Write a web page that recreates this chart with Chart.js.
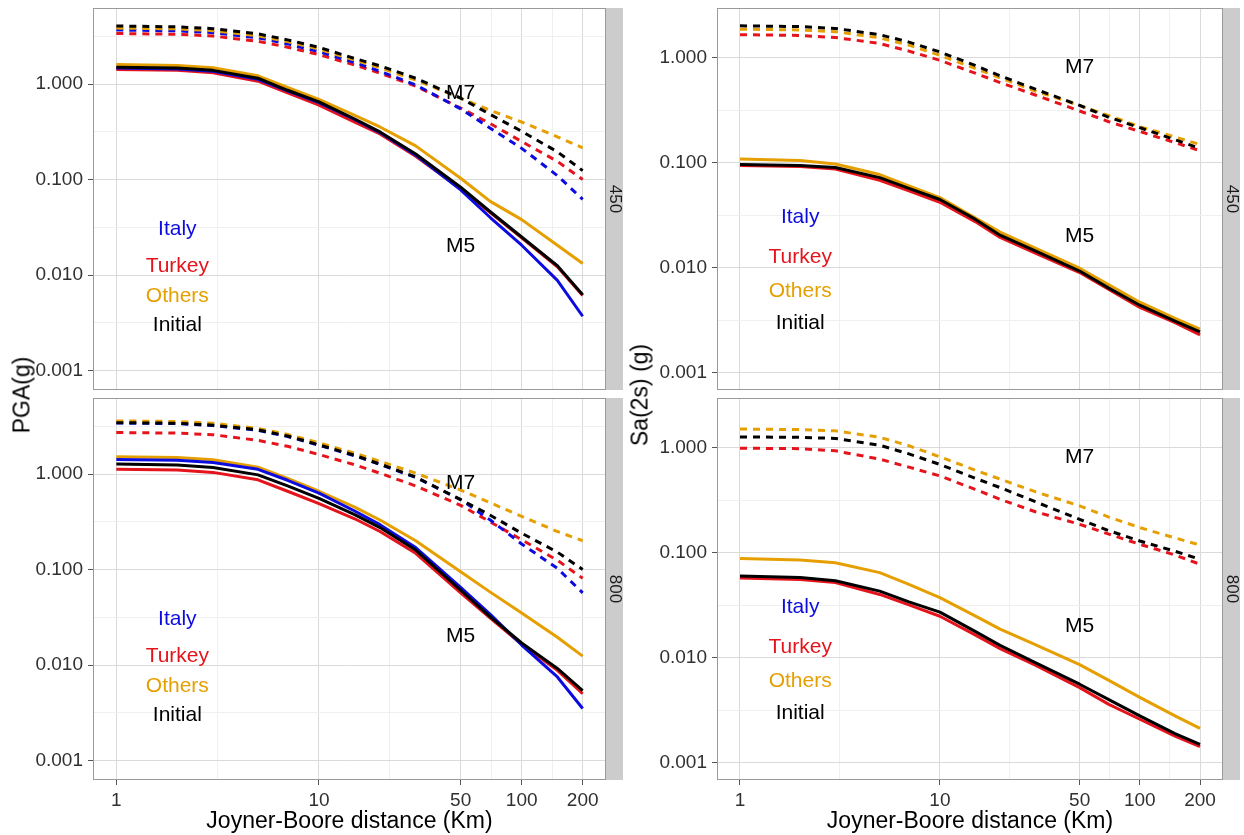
<!DOCTYPE html>
<html><head><meta charset="utf-8">
<script src="https://cdn.jsdelivr.net/npm/chart.js@4.4.0/dist/chart.umd.min.js"></script>
<style>
html,body{margin:0;padding:0;background:#fff;}
body{width:1244px;height:835px;position:relative;overflow:hidden;font-family:"Liberation Sans",Arial,sans-serif;}
canvas{position:absolute;}
.ytitle{position:absolute;font-size:23px;color:#000;transform:translate(-50%,-50%) rotate(-90deg);white-space:nowrap;line-height:1;}
</style></head><body>
<canvas id="c1" width="625" height="391" style="left:0;top:0;width:625px;height:391px"></canvas>
<canvas id="c2" width="625" height="444" style="left:0;top:391px;width:625px;height:444px"></canvas>
<canvas id="c3" width="619" height="391" style="left:625px;top:0;width:619px;height:391px"></canvas>
<canvas id="c4" width="619" height="444" style="left:625px;top:391px;width:619px;height:444px"></canvas>
<div class="ytitle" style="left:22px;top:395px">PGA(g)</div>
<div class="ytitle" style="left:640px;top:395px">Sa(2s) (g)</div>
<script>
// ---------------- data ----------------
const distances = [1, 2, 3, 5, 7, 10, 15, 20, 30, 50, 70, 100, 150, 200];
const xTickValues = [1, 10, 50, 100, 200];
const xTickLabels = ['1', '10', '50', '100', '200'];
const yTickValues = [0.001, 0.01, 0.1, 1];
const yTickLabels = ['0.001', '0.010', '0.100', '1.000'];
const stripLabels = ['450', '800'];
const xTitle = 'Joyner-Boore distance (Km)';

// PGA, Vs30 = 450
const pga450M7Initial = [4.05, 3.97, 3.80, 3.35, 2.90, 2.42, 1.85, 1.55, 1.15, 0.71, 0.48, 0.32, 0.195, 0.124];
const pga450M7Others  = [3.85, 3.78, 3.62, 3.20, 2.78, 2.32, 1.78, 1.48, 1.10, 0.71, 0.53, 0.40, 0.28, 0.215];
const pga450M7Italy   = [3.68, 3.60, 3.45, 3.05, 2.63, 2.18, 1.68, 1.36, 0.98, 0.55, 0.345, 0.212, 0.11, 0.062];
const pga450M7Turkey  = [3.38, 3.32, 3.18, 2.80, 2.43, 2.03, 1.58, 1.30, 0.95, 0.56, 0.385, 0.25, 0.155, 0.10];
const pga450M5Initial = [1.50, 1.47, 1.39, 1.15, 0.86, 0.65, 0.43, 0.315, 0.185, 0.083, 0.046, 0.025, 0.0125, 0.0062];
const pga450M5Others  = [1.60, 1.56, 1.48, 1.22, 0.92, 0.69, 0.47, 0.355, 0.225, 0.103, 0.059, 0.038, 0.0205, 0.0132];
const pga450M5Italy   = [1.47, 1.44, 1.36, 1.12, 0.85, 0.64, 0.425, 0.31, 0.18, 0.078, 0.040, 0.0205, 0.0088, 0.0037];
const pga450M5Turkey  = [1.42, 1.39, 1.31, 1.07, 0.81, 0.60, 0.40, 0.30, 0.175, 0.080, 0.045, 0.0245, 0.0122, 0.0061];

// PGA, Vs30 = 800
const pga800M7Initial = [3.45, 3.40, 3.25, 2.90, 2.50, 2.02, 1.57, 1.27, 0.93, 0.54, 0.37, 0.24, 0.152, 0.10];
const pga800M7Others  = [3.60, 3.55, 3.40, 3.00, 2.60, 2.12, 1.65, 1.36, 1.02, 0.68, 0.50, 0.36, 0.25, 0.20];
const pga800M7Italy   = [3.42, 3.37, 3.22, 2.87, 2.47, 2.00, 1.55, 1.26, 0.92, 0.54, 0.33, 0.185, 0.103, 0.057];
const pga800M7Turkey  = [2.72, 2.68, 2.58, 2.25, 1.95, 1.60, 1.25, 1.02, 0.75, 0.47, 0.315, 0.205, 0.125, 0.081];
const pga800M5Initial = [1.27, 1.24, 1.17, 0.98, 0.75, 0.555, 0.375, 0.275, 0.16, 0.061, 0.032, 0.017, 0.0092, 0.0054];
const pga800M5Others  = [1.52, 1.49, 1.41, 1.18, 0.90, 0.66, 0.45, 0.33, 0.20, 0.095, 0.058, 0.035, 0.0195, 0.0124];
const pga800M5Italy   = [1.42, 1.39, 1.32, 1.12, 0.86, 0.63, 0.41, 0.295, 0.17, 0.065, 0.034, 0.0162, 0.0075, 0.0035];
const pga800M5Turkey  = [1.12, 1.10, 1.04, 0.87, 0.66, 0.49, 0.34, 0.25, 0.148, 0.057, 0.031, 0.0165, 0.0088, 0.0050];

// Sa(2s), Vs30 = 450
const sa450M7Initial = [2.00, 1.97, 1.89, 1.65, 1.40, 1.13, 0.84, 0.67, 0.50, 0.35, 0.27, 0.215, 0.165, 0.137];
const sa450M7Others  = [1.86, 1.83, 1.76, 1.54, 1.31, 1.05, 0.79, 0.64, 0.48, 0.35, 0.28, 0.22, 0.175, 0.149];
const sa450M7Turkey  = [1.65, 1.62, 1.55, 1.36, 1.15, 0.94, 0.71, 0.578, 0.44, 0.31, 0.245, 0.198, 0.155, 0.130];
const sa450M5Initial = [0.096, 0.094, 0.090, 0.072, 0.057, 0.0446, 0.029, 0.0204, 0.0145, 0.0093, 0.0064, 0.0044, 0.0031, 0.00245];
const sa450M5Others  = [0.108, 0.105, 0.097, 0.077, 0.060, 0.0465, 0.0298, 0.0218, 0.0154, 0.0099, 0.0069, 0.0047, 0.0033, 0.0026];
const sa450M5Turkey  = [0.094, 0.092, 0.087, 0.068, 0.054, 0.042, 0.0275, 0.0194, 0.0138, 0.0090, 0.0062, 0.0042, 0.0030, 0.0023];

// Sa(2s), Vs30 = 800
const sa800M7Initial = [1.26, 1.25, 1.22, 1.05, 0.87, 0.69, 0.51, 0.416, 0.305, 0.207, 0.162, 0.129, 0.103, 0.0865];
const sa800M7Others  = [1.50, 1.48, 1.44, 1.25, 1.04, 0.815, 0.61, 0.50, 0.38, 0.278, 0.218, 0.173, 0.138, 0.118];
const sa800M7Turkey  = [0.985, 0.975, 0.93, 0.775, 0.65, 0.537, 0.40, 0.322, 0.245, 0.186, 0.15, 0.12, 0.095, 0.0775];
const sa800M5Initial = [0.060, 0.058, 0.054, 0.043, 0.034, 0.0272, 0.0178, 0.0131, 0.0090, 0.0056, 0.0040, 0.0028, 0.0019, 0.0015];
const sa800M5Others  = [0.0877, 0.085, 0.080, 0.0645, 0.050, 0.0373, 0.025, 0.0187, 0.0133, 0.0086, 0.0061, 0.0042, 0.0028, 0.00213];
const sa800M5Turkey  = [0.0574, 0.0556, 0.052, 0.040, 0.0318, 0.0248, 0.0165, 0.0122, 0.0085, 0.0052, 0.0036, 0.0026, 0.0018, 0.00143];

// text annotations (in data units)
const noteTexts = ['Italy', 'Turkey', 'Others', 'Initial', 'M7', 'M5'];
const noteX = [2, 2, 2, 2, 50, 50];
const noteY = [0.03, 0.0125, 0.006, 0.003, 0.8, 0.02];

// ---------------- styling ----------------
const COL = {Italy: '#0c0ce0', Turkey: '#e5141c', Others: '#E69F00', Initial: '#000000', M7: '#000000', M5: '#000000'};
const FONT = '"Liberation Sans", Arial, sans-serif';
Chart.defaults.font.family = FONT;

const X_MIN = Math.pow(10, -0.11505), X_MAX = Math.pow(10, 2.41608);
const xGrid = [1, Math.sqrt(10), 10, Math.sqrt(500), 50, Math.sqrt(5000), 100, Math.sqrt(20000), 200];
const yGridAll = [0.001, Math.pow(10, -2.5), 0.01, Math.pow(10, -1.5), 0.1, Math.pow(10, -0.5), 1, Math.pow(10, 0.5)];
const isMajor = (list, v) => list.some(t => Math.abs(t - v) / t < 1e-9);

const facetPlugin = {
  id: 'facet',
  afterDatasetsDraw(chart, args, opts) {
    const {ctx, chartArea: a} = chart;
    const x = chart.scales.x, y = chart.scales.y;
    ctx.save();
    ctx.textAlign = 'center';
    ctx.textBaseline = 'middle';
    ctx.font = '21px ' + FONT;
    noteTexts.forEach((t, i) => {
      ctx.fillStyle = COL[t];
      ctx.fillText(t, x.getPixelForValue(noteX[i]), y.getPixelForValue(noteY[i]));
    });
    ctx.strokeStyle = '#9a9a9a';
    ctx.lineWidth = 1;
    ctx.strokeRect(a.left + 0.5, a.top + 0.5, a.right - a.left - 1, a.bottom - a.top - 1);
    ctx.fillStyle = '#cccccc';
    ctx.fillRect(a.right, a.top, 17, a.bottom - a.top);
    ctx.translate(a.right + 8.5, (a.top + a.bottom) / 2);
    ctx.rotate(Math.PI / 2);
    ctx.fillStyle = '#1a1a1a';
    ctx.font = '17px ' + FONT;
    ctx.fillText(opts.strip, 0, 0);
    ctx.restore();
  }
};

function series(label, values, dashed) {
  return {
    label: label,
    data: distances.map((d, i) => ({x: d, y: values[i]})),
    borderColor: COL[label],
    borderWidth: 3,
    borderDash: dashed ? [7, 6] : [],
    borderCapStyle: 'butt',
    borderJoinStyle: 'round',
    pointRadius: 0,
    tension: 0,
    fill: false
  };
}

function makeChart(id, opt) {
  const bottomRow = opt.bottom;
  new Chart(document.getElementById(id), {
    type: 'line',
    data: {datasets: opt.datasets},
    options: {
      responsive: false,
      animation: false,
      devicePixelRatio: 1,
      events: [],
      layout: {padding: {top: bottomRow ? 7 : 8, right: opt.padRight, bottom: bottomRow ? 0 : 1, left: 0}},
      plugins: {legend: {display: false}, tooltip: {enabled: false}, facet: {strip: opt.strip}},
      scales: {
        x: {
          type: 'logarithmic', min: X_MIN, max: X_MAX, bounds: 'data',
          afterBuildTicks: s => { s.ticks = xGrid.map(v => ({value: v})); },
          afterFit: s => { s.height = bottomRow ? 55 : 0; s.paddingLeft = 0; s.paddingRight = 0; s.paddingTop = 0; s.paddingBottom = 0; },
          ticks: {
            display: bottomRow, autoSkip: false, maxRotation: 0, minRotation: 0, padding: 4,
            color: '#303030', font: {size: 19, family: FONT},
            callback: v => { const i = xTickValues.findIndex(t => Math.abs(t - v) / t < 1e-9); return i >= 0 ? xTickLabels[i] : ''; }
          },
          grid: {
            drawTicks: bottomRow, tickLength: 5,
            color: c => (c.tick && isMajor(xTickValues, c.tick.value)) ? '#dadada' : '#efefef',
            tickColor: c => (c.tick && isMajor(xTickValues, c.tick.value)) ? '#555555' : 'rgba(0,0,0,0)',
            lineWidth: 1
          },
          border: {display: false},
          title: {display: bottomRow, text: xTitle, color: '#000', font: {size: 23, family: FONT}, padding: 0}
        },
        y: {
          type: 'logarithmic', min: opt.yMin, max: opt.yMax, bounds: 'data',
          afterBuildTicks: s => { s.ticks = yGridAll.filter(v => v >= opt.yMin && v <= opt.yMax).map(v => ({value: v})); },
          afterFit: s => { s.width = opt.yWidth; s.paddingTop = 0; s.paddingBottom = 0; s.paddingLeft = 0; s.paddingRight = 0; },
          ticks: {
            autoSkip: false, padding: 5, color: '#303030', font: {size: 19, family: FONT},
            callback: v => { const i = yTickValues.findIndex(t => Math.abs(t - v) / t < 1e-9); return i >= 0 ? yTickLabels[i] : ''; }
          },
          grid: {
            drawTicks: true, tickLength: 5,
            color: c => (c.tick && isMajor(yTickValues, c.tick.value)) ? '#dadada' : '#efefef',
            tickColor: c => (c.tick && isMajor(yTickValues, c.tick.value)) ? '#555555' : 'rgba(0,0,0,0)',
            lineWidth: 1
          },
          border: {display: false}
        }
      }
    },
    plugins: [facetPlugin]
  });
}

const PGA_MIN = Math.pow(10, -3.204), PGA_MAX = Math.pow(10, 0.796);
const SA_MIN = Math.pow(10, -3.163), SA_MAX = Math.pow(10, 0.471);

makeChart('c1', {bottom: false, strip: stripLabels[0], padRight: 19, yWidth: 93, yMin: PGA_MIN, yMax: PGA_MAX, datasets: [
  series('Initial', pga450M5Initial, false), series('Italy', pga450M5Italy, false),
  series('Others', pga450M5Others, false), series('Turkey', pga450M5Turkey, false),
  series('Initial', pga450M7Initial, true), series('Others', pga450M7Others, true),
  series('Italy', pga450M7Italy, true), series('Turkey', pga450M7Turkey, true)
]});
makeChart('c2', {bottom: true, strip: stripLabels[1], padRight: 19, yWidth: 93, yMin: PGA_MIN, yMax: PGA_MAX, datasets: [
  series('Initial', pga800M5Initial, false), series('Italy', pga800M5Italy, false),
  series('Others', pga800M5Others, false), series('Turkey', pga800M5Turkey, false),
  series('Initial', pga800M7Initial, true), series('Others', pga800M7Others, true),
  series('Italy', pga800M7Italy, true), series('Turkey', pga800M7Turkey, true)
]});
makeChart('c3', {bottom: false, strip: stripLabels[0], padRight: 21, yWidth: 92, yMin: SA_MIN, yMax: SA_MAX, datasets: [
  series('Initial', sa450M5Initial, false), series('Others', sa450M5Others, false), series('Turkey', sa450M5Turkey, false),
  series('Initial', sa450M7Initial, true), series('Others', sa450M7Others, true), series('Turkey', sa450M7Turkey, true)
]});
makeChart('c4', {bottom: true, strip: stripLabels[1], padRight: 21, yWidth: 92, yMin: SA_MIN, yMax: SA_MAX, datasets: [
  series('Initial', sa800M5Initial, false), series('Others', sa800M5Others, false), series('Turkey', sa800M5Turkey, false),
  series('Initial', sa800M7Initial, true), series('Others', sa800M7Others, true), series('Turkey', sa800M7Turkey, true)
]});
</script>
</body></html>
